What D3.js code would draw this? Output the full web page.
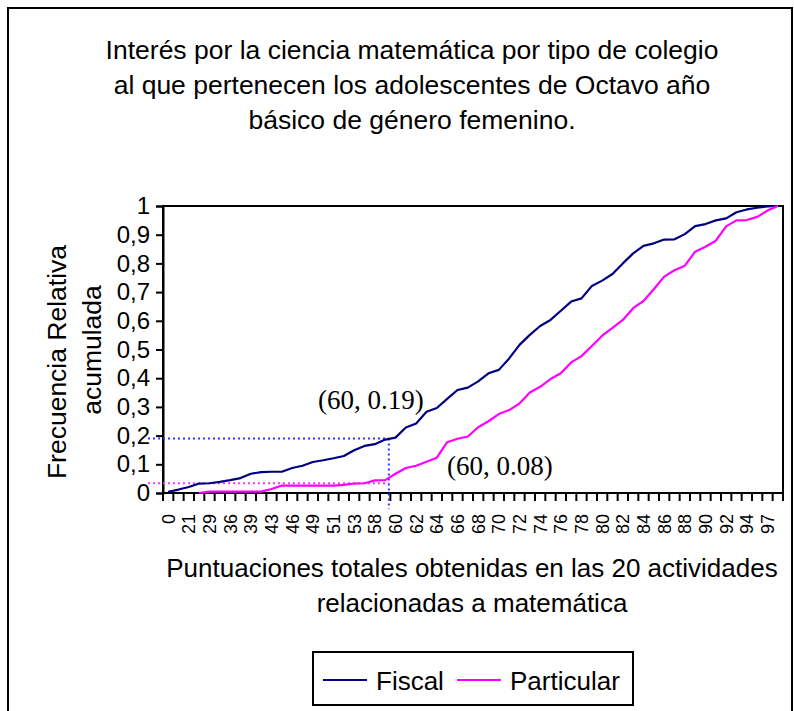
<!DOCTYPE html>
<meta charset="utf-8">
<style>
  body { margin: 0; background: #fff; }
  text { font-family: "Liberation Sans", Arial, sans-serif; fill: #000; }
</style>
<body>
<script src="https://d3js.org/d3.v7.min.js"></script>
<script>

var width = 794,
    height = 711;

// scores (only every other one is printed on the axis)
var categories = ["0","18","21","26","29","33","36","38","39","41",
                  "43","45","46","48","49","50","51","52","53","56",
                  "58","59","60","61","62","63","64","65","66","67",
                  "68","69","70","71","72","73","74","75","76","77",
                  "78","79","80","81","82","83","84","85","86","87",
                  "88","89","90","91","92","93","94","95","97","99"];

var fiscal = [0.004,0.012,0.021,0.033,0.034,0.039,0.045,0.052,0.067,0.073,
              0.074,0.074,0.087,0.095,0.108,0.114,0.121,0.129,0.149,0.164,
              0.170,0.186,0.193,0.228,0.242,0.283,0.296,0.328,0.359,0.367,
              0.389,0.417,0.429,0.469,0.516,0.551,0.582,0.603,0.635,0.667,
              0.678,0.721,0.740,0.763,0.800,0.835,0.861,0.870,0.883,0.884,
              0.902,0.930,0.937,0.950,0.957,0.978,0.988,0.994,0.999,1];

var particular = [null,null,null,0,0.005,0.005,0.005,0.005,0.005,0.005,
                  0.014,0.026,0.026,0.026,0.026,0.026,0.026,0.028,0.033,0.034,
                  0.044,0.045,0.067,0.087,0.095,0.109,0.123,0.177,0.189,0.197,
                  0.229,0.250,0.275,0.289,0.312,0.350,0.370,0.397,0.417,0.455,
                  0.477,0.512,0.548,0.575,0.603,0.644,0.669,0.710,0.754,0.776,
                  0.792,0.841,0.858,0.879,0.929,0.950,0.951,0.962,0.984,1];

var yTicks = [0,0.1,0.2,0.3,0.4,0.5,0.6,0.7,0.8,0.9,1];

var titleLines = ["Interés por la ciencia matemática por tipo de colegio",
                  "al que pertenecen los adolescentes de Octavo año",
                  "básico de género femenino."];
var xTitleLines = ["Puntuaciones totales obtenidas en las 20 actividades",
                   "relacionadas a matemática"];
var yTitleLines = ["Frecuencia Relativa", "acumulada"];

var seriesNames = ["Fiscal", "Particular"],
    seriesColors = ["#000080", "#ff00ff"];

// reference marks drawn by hand on the original
var refCategory = "60",
    refFiscal = 0.19,
    refParticular = 0.034;

var margin = {left: 163, right: 794 - 783, top: 206, bottom: 711 - 493};

var svg = d3.select("body").append("svg")
    .attr("width", width)
    .attr("height", height);

svg.append("rect")
    .attr("x", 8).attr("y", 8)
    .attr("width", 784).attr("height", 740)
    .attr("fill", "none")
    .attr("stroke", "#000")
    .attr("stroke-width", 2);

var x = d3.scaleBand()
    .domain(categories)
    .range([margin.left, width - margin.right])
    .padding(0);

var y = d3.scaleLinear()
    .domain([0, 1])
    .range([height - margin.bottom, margin.top]);

var fmt = function(d) { return d3.format("")(+d.toFixed(1)).replace(".", ","); };

// title
svg.append("g").selectAll("text")
    .data(titleLines)
  .enter().append("text")
    .attr("x", 412)
    .attr("y", function(d, i) { return 59 + i * 35; })
    .attr("text-anchor", "middle")
    .style("font-size", "26.5px")
    .text(function(d) { return d; });

// plot frame
svg.append("rect")
    .attr("x", margin.left).attr("y", margin.top)
    .attr("width", x.range()[1] - margin.left)
    .attr("height", y(0) - margin.top)
    .attr("fill", "none")
    .attr("stroke", "#000")
    .attr("stroke-width", 2);

// x axis: ticks at every band edge, labels on every other category
var xAxis = svg.append("g")
    .attr("transform", "translate(0," + y(0) + ")");

xAxis.append("line")
    .attr("x1", margin.left).attr("x2", x.range()[1])
    .attr("stroke", "#000").attr("stroke-width", 2);

xAxis.selectAll(".tk")
    .data(categories.concat(["end"]))
  .enter().append("line")
    .attr("class", "tk")
    .attr("x1", function(d, i) { return margin.left + i * x.step(); })
    .attr("x2", function(d, i) { return margin.left + i * x.step(); })
    .attr("y1", 0).attr("y2", 8)
    .attr("stroke", "#000").attr("stroke-width", 2);

xAxis.selectAll(".lbl")
    .data(categories.filter(function(d, i) { return i % 2 === 0; }))
  .enter().append("text")
    .attr("class", "lbl")
    .attr("transform", function(d) {
      return "translate(" + (x(d) + x.bandwidth() / 2 + 6.5) + ",21) rotate(-90)";
    })
    .attr("text-anchor", "end")
    .style("font-size", "18px")
    .text(function(d) { return d; });

// y axis
var yAxis = svg.append("g")
    .attr("transform", "translate(" + margin.left + ",0)")
    .call(d3.axisLeft(y).tickValues(yTicks).tickSize(7).tickPadding(6).tickFormat(fmt));

yAxis.select(".domain").attr("stroke-width", 2);
yAxis.selectAll(".tick line").attr("stroke-width", 2);
yAxis.selectAll(".tick text")
    .style("font-size", "24px")
    .style("font-family", "'Liberation Sans', Arial, sans-serif");

// axis titles
svg.append("g").selectAll("text")
    .data(xTitleLines)
  .enter().append("text")
    .attr("x", 472)
    .attr("y", function(d, i) { return 577 + i * 35; })
    .attr("text-anchor", "middle")
    .style("font-size", "26px")
    .text(function(d) { return d; });

svg.append("g").selectAll("text")
    .data(yTitleLines)
  .enter().append("text")
    .attr("transform", function(d, i) {
      return "translate(" + (66 + i * 35) + "," + (i ? 350 : 362) + ") rotate(-90)";
    })
    .attr("text-anchor", "middle")
    .style("font-size", "26.5px")
    .text(function(d) { return d; });

// reference dotted lines
var xRef = x(refCategory) - 1.5;

svg.append("line")
    .attr("x1", 148).attr("x2", xRef)
    .attr("y1", y(refFiscal)).attr("y2", y(refFiscal))
    .attr("stroke", "#3333ff").attr("stroke-width", 2)
    .attr("stroke-dasharray", "2,3");

svg.append("line")
    .attr("x1", xRef).attr("x2", xRef)
    .attr("y1", y(refFiscal)).attr("y2", y(0) + 16)
    .attr("stroke", "#3333ff").attr("stroke-width", 2)
    .attr("stroke-dasharray", "2,3");

svg.append("line")
    .attr("x1", 148).attr("x2", xRef)
    .attr("y1", y(refParticular)).attr("y2", y(refParticular))
    .attr("stroke", "#ff33ff").attr("stroke-width", 2)
    .attr("stroke-dasharray", "2,3");

// series lines
var line = d3.line()
    .defined(function(d) { return d != null; })
    .x(function(d, i) { return x(categories[i]) + x.bandwidth() / 2; })
    .y(function(d) { return y(d); });

[fiscal, particular].forEach(function(s, k) {
  svg.append("path")
      .datum(s)
      .attr("fill", "none")
      .attr("stroke", seriesColors[k])
      .attr("stroke-width", 2.2)
      .attr("stroke-linejoin", "round")
      .attr("d", line);
});

// annotations
svg.append("text")
    .attr("x", 318).attr("y", 409)
    .style("font-family", "'Liberation Serif', 'Times New Roman', serif")
    .style("font-size", "27px")
    .text("(60, 0.19)");

svg.append("text")
    .attr("x", 447).attr("y", 475)
    .style("font-family", "'Liberation Serif', 'Times New Roman', serif")
    .style("font-size", "27px")
    .text("(60, 0.08)");

// legend
var legend = svg.append("g");

legend.append("rect")
    .attr("x", 313).attr("y", 652)
    .attr("width", 320).attr("height", 53)
    .attr("fill", "#fff")
    .attr("stroke", "#000")
    .attr("stroke-width", 2);

var legX = [323, 457];

seriesNames.forEach(function(name, k) {
  legend.append("line")
      .attr("x1", legX[k]).attr("x2", legX[k] + 44)
      .attr("y1", 680).attr("y2", 680)
      .attr("stroke", seriesColors[k])
      .attr("stroke-width", 2);
  legend.append("text")
      .attr("x", legX[k] + 53).attr("y", 690)
      .style("font-size", "26px")
      .text(name);
});

</script>
</body>
